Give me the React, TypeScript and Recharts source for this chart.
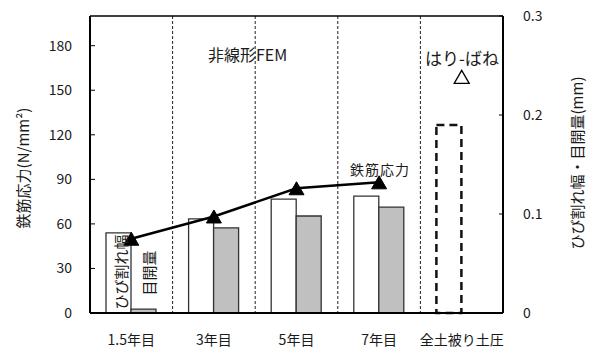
import React from 'react';
import {
  ComposedChart, Bar, Line, XAxis, YAxis, CartesianGrid, ReferenceLine, Cell,
} from 'recharts';

// categories and values
const categories = ['1.5年目', '3年目', '5年目', '7年目', '全土被り土圧'];
const crackWidth = [0.081, 0.095, 0.115, 0.118, 0.19]; // ひび割れ幅 (mm)
const jointOpening = [0.004, 0.086, 0.098, 0.107, null]; // 目開量 (mm)
const stressFem = [50, 65, 84, 88, null]; // 鉄筋応力 非線形FEM (N/mm2)
const stressBeam = [null, null, null, null, 159]; // はり-ばね (N/mm2)
const stressTicks = [0, 30, 60, 90, 120, 150, 180];
const widthTicks = [0, 0.1, 0.2, 0.3];

const data = categories.map((name, i) => ({
  name,
  crack: crackWidth[i],
  joint: jointOpening[i],
  fem: stressFem[i],
  beam: stressBeam[i],
}));

const font = '"Noto Sans CJK JP", "Noto Sans", sans-serif';
const ink = '#1a1a1a';

const Triangle = (props: any) => {
  const { cx, cy, filled } = props;
  if (cx == null || cy == null || isNaN(cy)) return null;
  const w = 7.5;
  const h = 6.5;
  return (
    <path
      d={`M${cx},${cy - h} L${cx + w},${cy + h} L${cx - w},${cy + h} Z`}
      fill={filled ? '#000' : '#fff'}
      stroke="#000"
      strokeWidth={filled ? 1 : 1.3}
    />
  );
};

// text drawn over the chart (labels inside bars must sit on top of the bars)
const Annotations = () => (
  <svg
    width={591}
    height={354}
    style={{ position: 'absolute', left: 0, top: 0, pointerEvents: 'none' }}
  >
    <g fontFamily={font} fill={ink}>
      <text x={208} y={54} fontSize={16} dominantBaseline="central">非線形FEM</text>
      <text x={462} y={57} fontSize={17} textAnchor="middle" dominantBaseline="central">はり-ばね</text>
      <text x={350} y={169} fontSize={14} letterSpacing={1} dominantBaseline="central">鉄筋応力</text>
      <text transform="translate(120,272) rotate(-90)" fontSize={15} textAnchor="middle" dominantBaseline="central">ひび割れ幅</text>
      <text transform="translate(148,273) rotate(-90)" fontSize={15} textAnchor="middle" dominantBaseline="central">目開量</text>
      <text transform="translate(22,168) rotate(-90)" fontSize={15} textAnchor="middle" dominantBaseline="central">鉄筋応力(N/mm²)</text>
      <text transform="translate(576,163) rotate(-90)" fontSize={15} textAnchor="middle" dominantBaseline="central">ひび割れ幅・目開量(mm)</text>
    </g>
  </svg>
);

export default function App() {
  const tick = { fill: ink, fontSize: 14, fontFamily: font };
  return (
    <div style={{ position: 'absolute', left: 0, top: 0, width: 591, height: 354, background: '#fff' }}>
      <ComposedChart
        width={591}
        height={354}
        data={data}
        margin={{ top: 16, right: 0, bottom: 0, left: 0 }}
        barGap={0}
      >
        <CartesianGrid
          horizontal={false}
          stroke="#222"
          strokeDasharray="3 2"
          verticalCoordinatesGenerator={({ offset }: any) =>
            [1, 2, 3, 4].map((i) => offset.left + (offset.width * i) / categories.length)
          }
        />
        <XAxis
          dataKey="name"
          height={41}
          tickLine={false}
          tickSize={0}
          tickMargin={22}
          axisLine={{ stroke: '#000', strokeWidth: 2 }}
          tick={tick}
          interval={0}
        />
        <YAxis
          yAxisId="left"
          width={90}
          domain={[0, 200]}
          ticks={stressTicks}
          tick={tick}
          tickSize={-5}
          tickMargin={23}
          tickLine={{ stroke: '#000' }}
          axisLine={{ stroke: '#000', strokeWidth: 2 }}
        />
        <YAxis
          yAxisId="right"
          orientation="right"
          width={88}
          domain={[0, 0.3]}
          ticks={widthTicks}
          tick={tick}
          tickSize={-4}
          tickMargin={24}
          tickLine={{ stroke: '#000' }}
          axisLine={{ stroke: '#000', strokeWidth: 2 }}
        />
        <ReferenceLine yAxisId="left" y={200} stroke="#000" strokeWidth={1.5} />
        <Bar yAxisId="right" dataKey="crack" barSize={25} fill="#fff" stroke="#333" strokeWidth={1.3} isAnimationActive={false}>
          {data.map((d, i) => (
            <Cell
              key={`c-${i}`}
              fill="#fff"
              stroke={i === 4 ? '#111' : '#333'}
              strokeWidth={i === 4 ? 2.5 : 1.3}
              strokeDasharray={i === 4 ? '8 5' : undefined}
            />
          ))}
        </Bar>
        <Bar yAxisId="right" dataKey="joint" barSize={25} fill="#c0c0c0" stroke="#333" strokeWidth={1.3} isAnimationActive={false} />
        <Line
          yAxisId="left"
          dataKey="fem"
          stroke="#000"
          strokeWidth={2.5}
          dot={(p: any) => <Triangle key={`f-${p.index}`} {...p} filled />}
          isAnimationActive={false}
        />
        <Line
          yAxisId="left"
          dataKey="beam"
          stroke="none"
          dot={(p: any) => <Triangle key={`b-${p.index}`} {...p} filled={false} />}
          isAnimationActive={false}
        />
      </ComposedChart>
      <Annotations />
    </div>
  );
}
